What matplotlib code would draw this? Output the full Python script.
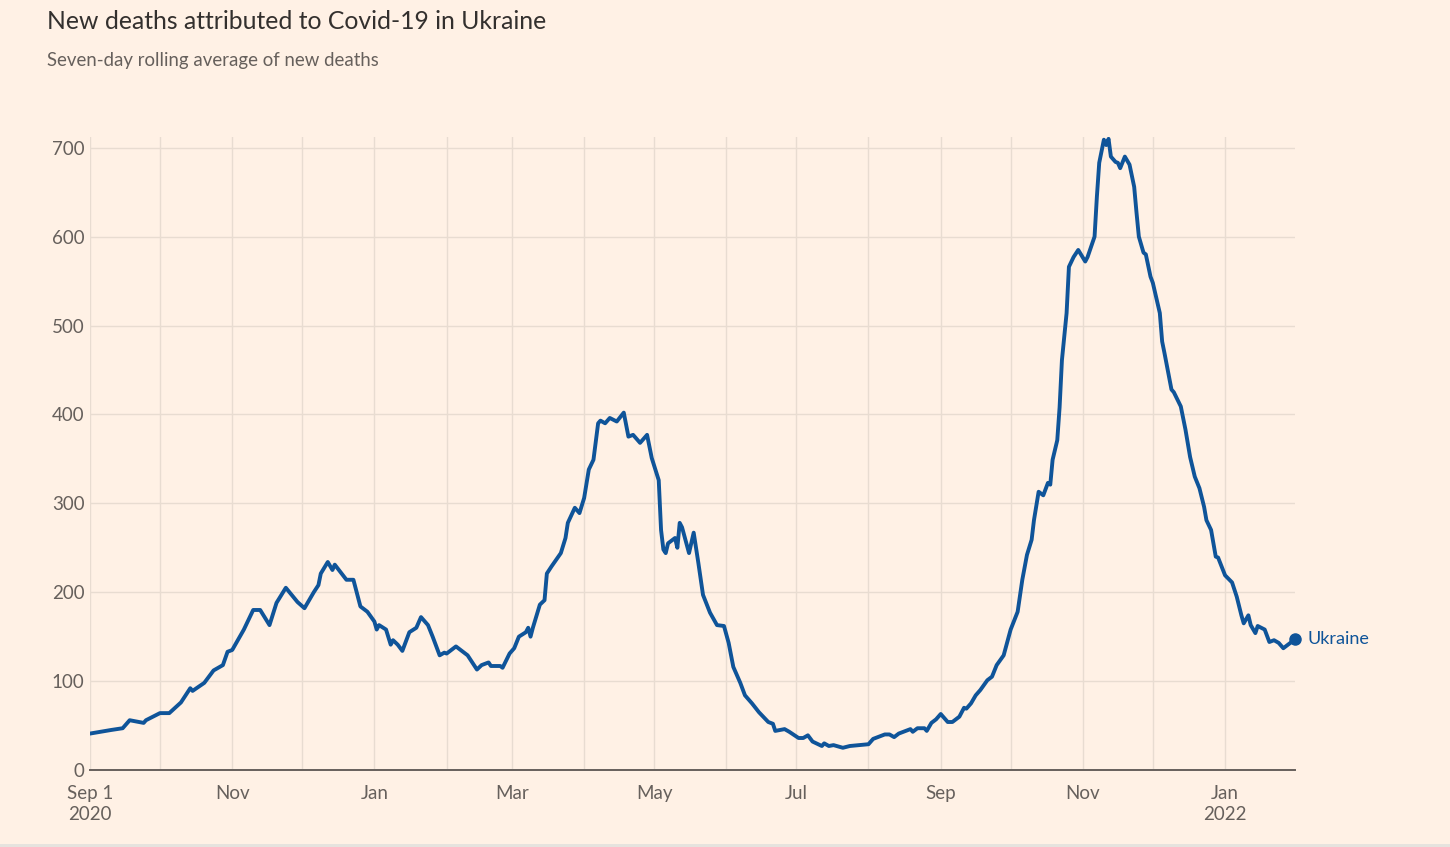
import matplotlib
matplotlib.use("Agg")
import matplotlib.pyplot as plt
import numpy as np
import pandas as pd

# days since 2020-09-01
day_offset = [
    0, 9, 14, 17, 23, 24, 30, 34, 39, 43, 44, 49, 53, 57, 59, 61, 66, 70, 73, 77,
    80, 84, 89, 92, 96, 98, 99, 102, 104, 105, 110, 113, 116, 119, 122, 123, 124, 127, 129, 130,
    132, 134, 137, 140, 142, 145, 147, 150, 152, 153, 157, 159, 162, 166, 168, 171, 172, 176, 177, 180,
    182, 184, 187, 188, 189, 190, 193, 195, 196, 198, 202, 204, 205, 208, 210, 212, 214, 216, 218, 219,
    221, 223, 226, 229, 231, 233, 236, 239, 241, 244, 245, 246, 247, 248, 251, 252, 253, 254, 257, 259,
    261, 263, 266, 269, 272, 274, 276, 279, 281, 284, 287, 291, 293, 294, 298, 300, 304, 306, 308, 310,
    314, 315, 317, 319, 323, 326, 330, 334, 336, 341, 343, 345, 347, 349, 352, 353, 355, 358, 359, 361,
    363, 365, 368, 370, 373, 375, 376, 378, 380, 382, 385, 387, 389, 392, 395, 398, 400, 402, 404, 405,
    407, 409, 411, 412, 413, 415, 416, 417, 419, 420, 422, 424, 427, 428, 431, 432, 433, 435, 436, 437,
    438, 440, 441, 442, 444, 446, 448, 449, 450, 452, 453, 455, 456, 459, 460, 461, 464, 465, 468, 470,
    472, 474, 476, 478, 479, 481, 483, 484, 487, 490, 492, 494, 495, 497, 498, 500, 501, 504, 506, 508,
    510, 512, 514, 517,
]
deaths = [
    41, 45, 47, 56, 53, 56, 64, 64, 76, 92, 89, 98, 112, 118, 133, 135, 158, 180, 180, 163,
    188, 205, 189, 182, 200, 208, 221, 234, 225, 231, 214, 214, 184, 178, 167, 158, 163, 158, 141, 146,
    141, 134, 155, 160, 172, 163, 150, 129, 132, 131, 139, 135, 129, 113, 118, 121, 117, 117, 115, 131,
    137, 150, 155, 160, 150, 160, 186, 191, 221, 229, 244, 261, 278, 295, 289, 306, 338, 349, 390, 393,
    390, 396, 392, 402, 375, 377, 368, 377, 351, 326, 270, 248, 244, 255, 261, 250, 278, 273, 244, 267,
    233, 197, 177, 163, 162, 143, 116, 98, 84, 75, 65, 54, 52, 44, 46, 43, 36, 36, 39, 32,
    27, 30, 27, 28, 25, 27, 28, 29, 35, 40, 40, 37, 41, 43, 46, 43, 47, 47, 44, 53,
    57, 63, 54, 54, 60, 70, 69, 75, 84, 90, 101, 105, 118, 129, 158, 178, 214, 242, 259, 281,
    313, 309, 323, 321, 349, 371, 408, 461, 514, 566, 577, 585, 572, 577, 600, 645, 683, 709, 703, 710,
    690, 684, 683, 677, 690, 681, 656, 627, 600, 582, 580, 555, 548, 514, 482, 469, 428, 425, 409, 383,
    352, 330, 317, 296, 281, 270, 240, 239, 219, 211, 195, 174, 165, 174, 163, 154, 162, 158, 144, 146,
    143, 137, 141, 147,
]

y_ticks = [0, 100, 200, 300, 400, 500, 600, 700]
month_labels = ["Sep 1\n2020", "", "Nov", "", "Jan", "", "Mar", "", "May", "",
                "Jul", "", "Sep", "", "Nov", "", "Jan\n2022"]

BG = "#FFF1E5"
BLUE = "#0F5499"
GRID = "#E8DCD1"
TEXT = "#66605C"

plt.rcParams["font.family"] = ["Lato", "DejaVu Sans"]

start = pd.Timestamp("2020-09-01")
dates = start + pd.to_timedelta(day_offset, unit="D")
month_starts = pd.date_range("2020-09-01", periods=len(month_labels), freq="MS")

fig = plt.figure(figsize=(14.5, 8.47), dpi=100, facecolor=BG)
ax = fig.add_axes([0.0621, 0.0909, 0.8310, 0.7473], facecolor=BG)

ax.plot(dates, deaths, color=BLUE, linewidth=2.8, solid_joinstyle="round", zorder=3)
ax.plot(dates[-1], deaths[-1], "o", color=BLUE, markersize=8, zorder=4, clip_on=False)
ax.annotate("Ukraine", (dates[-1], deaths[-1]), xytext=(9, 0), textcoords="offset points",
            va="center", ha="left", color=BLUE, fontsize=13, annotation_clip=False)

ax.set_xlim(start, start + pd.Timedelta(days=517))
ax.set_ylim(0, 712)
ax.set_yticks(y_ticks)
ax.set_xticks(month_starts)
ax.set_xticklabels(month_labels)

ax.grid(True, color=GRID, linewidth=1)
ax.set_axisbelow(True)
for side in ("top", "right", "left"):
    ax.spines[side].set_visible(False)
ax.spines["bottom"].set_color(TEXT)
ax.spines["bottom"].set_linewidth(1.4)
ax.spines["bottom"].set_zorder(5)

ax.tick_params(axis="both", length=0, colors=TEXT, labelsize=13.5)
ax.tick_params(axis="x", pad=11)
ax.tick_params(axis="y", pad=4)
for lbl in ax.get_xticklabels():
    lbl.set_linespacing(1.3)

fig.text(0.0324, 0.975, "New deaths attributed to Covid-19 in Ukraine",
         fontsize=17.8, color="#33302E", va="center", ha="left")
fig.text(0.0324, 0.928, "Seven-day rolling average of new deaths",
         fontsize=13.4, color=TEXT, va="center", ha="left")

fig.add_artist(plt.Rectangle((0, 0), 1, 0.004, transform=fig.transFigure,
                             color="#E6E3DE", lw=0))

fig.savefig("out.png", dpi=100, facecolor=BG)
